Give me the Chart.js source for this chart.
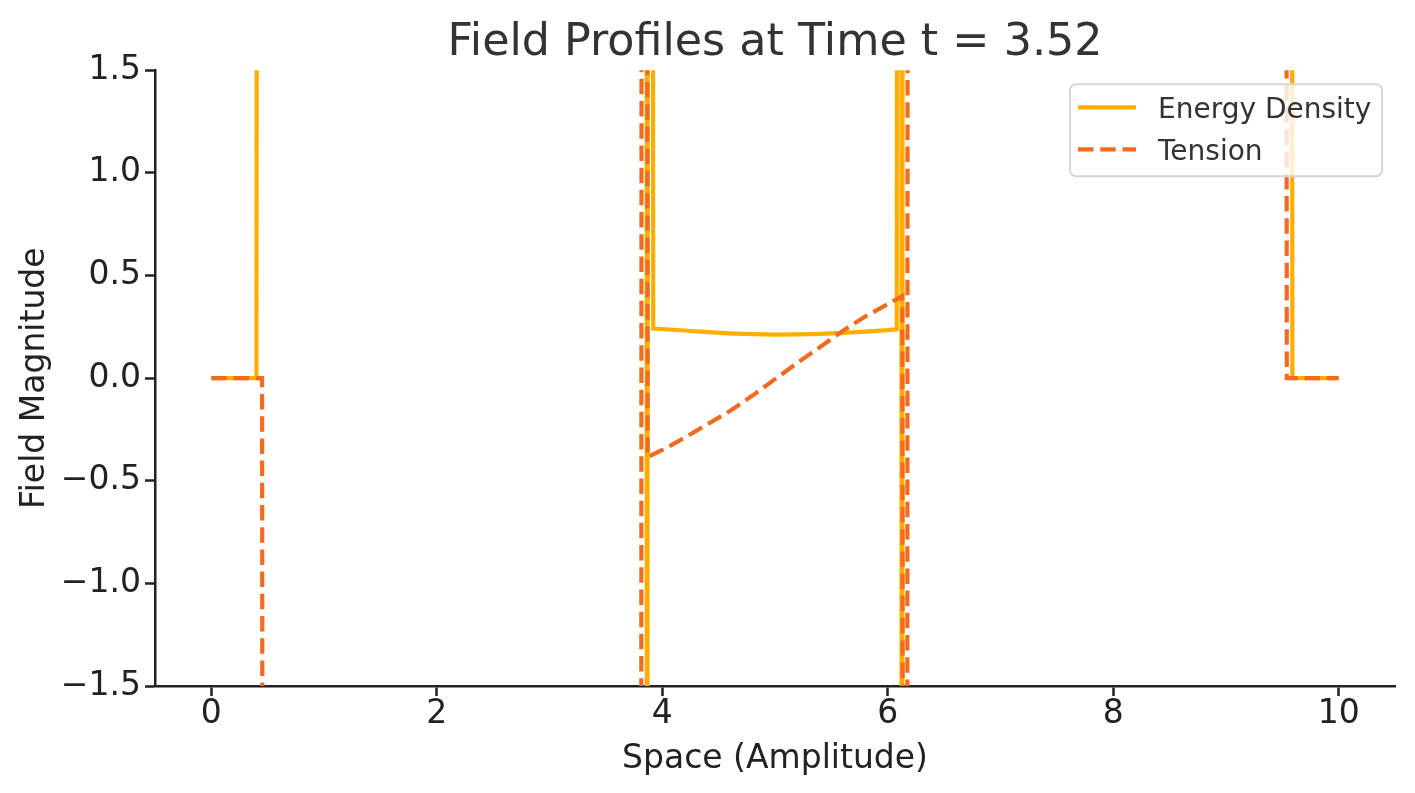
<!DOCTYPE html>
<html>
<head>
<meta charset="utf-8">
<title>Field Profiles</title>
<script src="https://cdn.jsdelivr.net/npm/chart.js@4/dist/chart.umd.min.js"></script>
<style>
  html, body { margin: 0; padding: 0; background: #fff; }
  canvas { display: block; }
</style>
</head>
<body>
<canvas id="chart" width="1415" height="793"></canvas>
<script>
// Energy density samples [x, value]; +-8 stands for values far off the plotted range
const energyX = [0, 0.40, 0.41, 3.86, 3.865, 3.875, 3.91, 3.92, 4.2, 4.4, 4.6, 4.8, 5.0, 5.2, 5.4, 5.6, 5.8, 6.0, 6.08, 6.09, 6.12, 6.125, 6.135, 9.58, 9.59, 10]
const energyY = [0, 0, 8, 8, -8, 8, 8, 0.242, 0.232, 0.224, 0.218, 0.214, 0.212, 0.213, 0.216, 0.221, 0.227, 0.234, 0.238, 8, 8, -8, 8, 8, 0, 0]

// Tension samples [x, value]
const tensionX = [0, 0.45, 0.46, 3.81, 3.82, 3.86, 3.87, 4.0, 4.2, 4.4, 4.6, 4.8, 5.0, 5.2, 5.4, 5.6, 5.8, 6.0, 6.13, 6.14, 6.17, 6.18, 9.53, 9.54, 10]
const tensionY = [0, 0, -8, -8, 8, 8, -0.385, -0.35, -0.29, -0.225, -0.16, -0.085, -0.005, 0.075, 0.152, 0.23, 0.30, 0.36, 0.40, -8, -8, 8, 8, 0, 0]

const xTicks = [0, 2, 4, 6, 8, 10]
const yTicks = [-1.5, -1.0, -0.5, 0.0, 0.5, 1.0, 1.5]

const FONT = "'DejaVu Sans', 'Liberation Sans', sans-serif"
const colors = {
  energy: "#FFAE00",
  tension: "#F26B21",
  text: "#222222",
  title: "#333333",
  axis: "#222222",
}

const toPoints = (xs, ys) => xs.map((x, i) => ({ x: x, y: ys[i] }))

// matplotlib-style legend box drawn on top of the lines
const boxLegend = {
  id: "boxLegend",
  afterDraw(chart) {
    const ctx = chart.ctx
    const area = chart.chartArea
    const x0 = area.right - 325, y0 = area.top + 14, w = 312, h = 92
    ctx.save()
    ctx.beginPath()
    ctx.roundRect(x0, y0, w, h, 6)
    ctx.fillStyle = "rgba(255,255,255,0.8)"
    ctx.fill()
    ctx.lineWidth = 2
    ctx.strokeStyle = "#d6d6d6"
    ctx.stroke()
    ctx.font = "28px " + FONT
    ctx.textBaseline = "middle"
    ctx.textAlign = "left"
    chart.data.datasets.forEach((ds, i) => {
      const yy = y0 + 23 + i * 42
      ctx.beginPath()
      ctx.setLineDash(ds.borderDash || [])
      ctx.lineWidth = ds.borderWidth
      ctx.strokeStyle = ds.borderColor
      ctx.moveTo(x0 + 8, yy)
      ctx.lineTo(x0 + 66, yy)
      ctx.stroke()
      ctx.setLineDash([])
      ctx.fillStyle = colors.title
      ctx.fillText(ds.label, x0 + 88, yy + 3)
    })
    ctx.restore()
  }
}

const fmtY = (v) => v.toFixed(1).replace("-", "\u2212")

new Chart(document.getElementById("chart"), {
  type: "line",
  data: {
    datasets: [
      {
        label: "Energy Density",
        data: toPoints(energyX, energyY),
        borderColor: colors.energy,
        borderWidth: 4.2,
        pointRadius: 0,
        tension: 0,
        clip: 0,
        order: 2,
      },
      {
        label: "Tension",
        data: toPoints(tensionX, tensionY),
        borderColor: colors.tension,
        borderWidth: 4.2,
        borderDash: [15.5, 6.7],
        pointRadius: 0,
        tension: 0,
        clip: 0,
        order: 1,
      },
    ],
  },
  options: {
    responsive: false,
    animation: false,
    devicePixelRatio: 1,
    layout: { padding: { left: 0, right: 20, top: 0, bottom: 0 } },
    plugins: {
      legend: { display: false },
      tooltip: { enabled: false },
      title: {
        display: true,
        text: "Field Profiles at Time t = 3.52",
        color: colors.title,
        fullSize: false,
        font: { family: FONT, size: 44.4, weight: "normal" },
        padding: { top: 17, bottom: 0 },
      },
    },
    scales: {
      x: {
        type: "linear",
        min: -0.5,
        max: 10.5,
        afterBuildTicks: (s) => { s.ticks = xTicks.map((v) => ({ value: v })) },
        afterFit: (s) => { s.height = 107 },
        grid: { drawOnChartArea: false, drawTicks: true, tickLength: 10, tickWidth: 2.5, tickColor: colors.axis },
        border: { display: true, color: colors.axis, width: 2.5 },
        ticks: { color: colors.text, font: { family: FONT, size: 33 }, padding: -1, maxRotation: 0, autoSkip: false },
        title: {
          display: true,
          text: "Space (Amplitude)",
          color: colors.text,
          font: { family: FONT, size: 33 },
          padding: { top: 0, bottom: 14 },
        },
      },
      y: {
        type: "linear",
        min: -1.5,
        max: 1.5,
        afterBuildTicks: (s) => { s.ticks = yTicks.map((v) => ({ value: v })) },
        afterFit: (s) => { s.width = 155 },
        grid: { drawOnChartArea: false, drawTicks: true, tickLength: 10, tickWidth: 2.5, tickColor: colors.axis },
        border: { display: true, color: colors.axis, width: 2.5 },
        ticks: { color: colors.text, font: { family: FONT, size: 33 }, padding: 4, callback: fmtY },
        title: {
          display: true,
          text: "Field Magnitude",
          color: colors.text,
          font: { family: FONT, size: 33 },
          padding: { top: 16, bottom: 0 },
        },
      },
    },
  },
  plugins: [boxLegend],
})
</script>
</body>
</html>
